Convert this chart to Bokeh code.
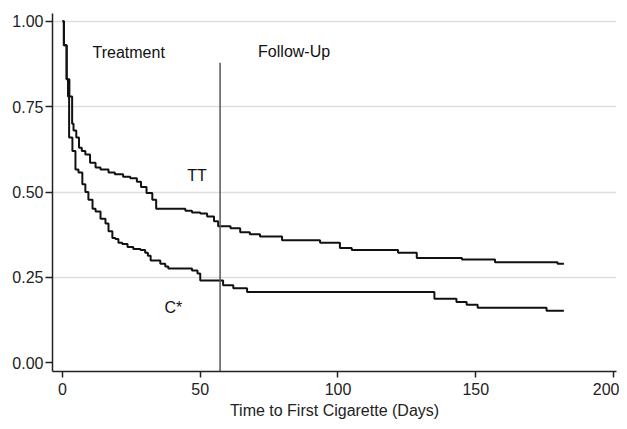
from bokeh.plotting import figure
from bokeh.models import FixedTicker, NumeralTickFormatter, Range1d, Label
from bokeh.embed import file_html
from bokeh.resources import INLINE

# Kaplan-Meier step data (days, survival after step)
tt_days = [0, 0.5, 1.5, 2.5, 3.5, 4, 5, 6, 7, 8.3, 10, 12, 13.8, 16.7, 19, 22, 24.6,
           27, 28.5, 30.5, 32.6, 34, 44.6, 47, 50, 52.5, 55, 56.5, 61, 64.5, 68, 71.7,
           79.7, 93.5, 100.7, 105, 121.8, 128.6, 145, 157, 179.7, 182]
tt_surv = [1.0, 0.93, 0.83, 0.78, 0.70, 0.68, 0.66, 0.63, 0.62, 0.61, 0.586, 0.572,
           0.566, 0.557, 0.552, 0.545, 0.54, 0.53, 0.515, 0.497, 0.477, 0.451, 0.445,
           0.44, 0.437, 0.428, 0.414, 0.40, 0.394, 0.382, 0.376, 0.37, 0.359, 0.351,
           0.336, 0.33, 0.322, 0.307, 0.302, 0.294, 0.29, 0.29]

c_days = [0, 0.5, 1.5, 2.0, 2.4, 3.6, 4.7, 5.8, 7.2, 8.3, 9.4, 10.9, 12, 13.8, 15.6,
          16.7, 18.1, 19.2, 20.3, 21.7, 23.6, 25.7, 28.3, 30, 31, 32, 35.5, 37.3,
          38.4, 47, 49, 50, 58.3, 62, 67, 135, 143, 146.7, 150.7, 175.7, 182]
c_surv = [1.0, 0.93, 0.83, 0.78, 0.66, 0.62, 0.566, 0.557, 0.523, 0.50, 0.477, 0.451,
          0.443, 0.422, 0.408, 0.385, 0.365, 0.362, 0.351, 0.348, 0.339, 0.333, 0.330,
          0.322, 0.313, 0.299, 0.290, 0.282, 0.276, 0.27, 0.261, 0.241, 0.227, 0.218,
          0.207, 0.187, 0.178, 0.17, 0.161, 0.152, 0.152]

x_ticks = [0, 50, 100, 150, 200]
y_ticks = [0.0, 0.25, 0.5, 0.75, 1.0]
grid_ticks = [0.25, 0.5, 0.75, 1.0]

followup_day = 57.2
followup_top = 0.879

FONT = "Liberation Sans"
FS = "16px"

Y0, Y1 = -0.0259, 1.023

p = figure(width=619, height=421, output_backend="svg", toolbar_location=None,
           x_range=Range1d(-3.63, 201.1), y_range=Range1d(Y0, Y1),
           min_border_left=52, min_border_right=3, min_border_top=13,
           min_border_bottom=43)
p.outline_line_color = None
p.background_fill_color = "white"
p.border_fill_color = "white"

p.xgrid.grid_line_color = None
p.ygrid.ticker = FixedTicker(ticks=grid_ticks)
p.ygrid.grid_line_color = "#dedede"
p.ygrid.grid_line_width = 1.5

for ax in (p.xaxis[0], p.yaxis[0]):
    ax.axis_line_color = "#222222"
    ax.axis_line_width = 1.5
    ax.major_tick_line_color = "#222222"
    ax.major_tick_line_width = 1.5
    ax.major_tick_in = 0
    ax.minor_tick_line_color = None
    ax.major_label_text_font = FONT
    ax.major_label_text_font_size = FS
    ax.major_label_text_color = "#222222"

p.xaxis.ticker = FixedTicker(ticks=x_ticks)
p.xaxis.major_tick_out = 6
p.xaxis.major_label_standoff = 5
p.xaxis.axis_label = "Time to First Cigarette (Days)"
p.xaxis.axis_label_text_font = FONT
p.xaxis.axis_label_text_font_size = FS
p.xaxis.axis_label_text_font_style = "normal"
p.xaxis.axis_label_text_color = "#222222"
p.xaxis.axis_label_standoff = 4

p.yaxis.ticker = FixedTicker(ticks=y_ticks)
p.yaxis.formatter = NumeralTickFormatter(format="0.00")
p.yaxis.major_tick_out = 7
p.yaxis.major_label_standoff = 2

p.step(tt_days, tt_surv, mode="after", line_color="#111111", line_width=2)
p.step(c_days, c_surv, mode="after", line_color="#111111", line_width=2)

p.segment(x0=[followup_day], y0=[followup_top], x1=[followup_day], y1=[Y0],
          line_color="#555555", line_width=1.5)

labels = [("Treatment", 10.9, 0.908), ("Follow-Up", 71.0, 0.911),
          ("TT", 45.3, 0.549), ("C*", 37.0, 0.161)]
for txt, lx, ly in labels:
    p.add_layout(Label(x=lx, y=ly, text=txt, text_font=FONT, text_font_size=FS,
                       text_color="#111111", text_baseline="middle",
                       text_align="left"))

open("out.html", "w").write(file_html(p, INLINE))
